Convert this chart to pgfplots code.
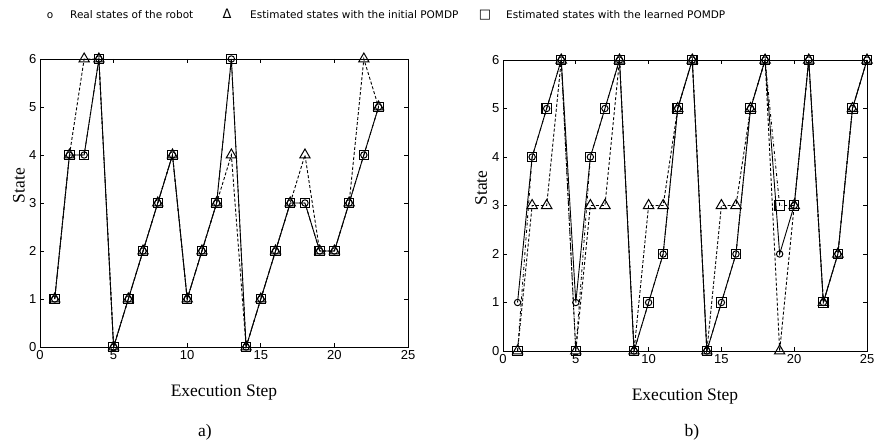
\documentclass[border=0pt]{standalone}
\usepackage{fontspec}
\setmainfont{Liberation Serif}
\newfontfamily\tickfont{Liberation Sans}
\newfontfamily\legfont{DejaVu Sans}
\usepackage{pgfplots}
\pgfplotsset{compat=1.18}
\pgfplotsset{
 mystyle/.style={
  scale only axis, xmin=0,xmax=25,ymin=0,ymax=6,
  xtick={0,5,...,25}, ytick={0,...,6},
  tick align=inside, major tick length=4pt,
  tick label style={font=\tickfont\fontsize{13}{15}\selectfont},
  /pgf/number format/assume math mode=true,
  label style={font=\fontsize{17.5}{20}\selectfont},
  xlabel={Execution Step}, ylabel={State},
  xlabel style={at={(axis description cs:0.5,0)}, anchor=center, yshift=-46pt},
  axis line style={line width=0.9pt},
  every tick/.style={black, line width=0.7pt},
  clip=false,
 },
 real/.style={black, line width=0.9pt, mark=o, mark size=3.2pt, mark options={solid, line width=1pt}},
 init/.style={black, densely dashed, line width=0.9pt, mark=triangle, mark size=6pt, mark options={solid, line width=1pt}},
 learn/.style={black, dash dot, line width=0.9pt, mark=square, mark size=4.7pt, mark options={solid, line width=1.1pt}},
}
\begin{document}
\begin{tikzpicture}[x=1pt,y=1pt]
\useasboundingbox (0,0) rectangle (874,441);
% ---- a)
\begin{axis}[mystyle, at={(40pt,94pt)}, anchor=south west, width=368pt, height=288pt,
  ylabel style={at={(axis description cs:-0.057,0.56)}, anchor=center}]
\addplot[learn] coordinates {(1,1)(2,4)(3,4)(4,6)(5,0)(6,1)(7,2)(8,3)(9,4)(10,1)(11,2)(12,3)(13,6)(14,0)(15,1)(16,2)(17,3)(18,3)(19,2)(20,2)(21,3)(22,4)(23,5)};
\addplot[init] coordinates {(1,1)(2,4)(3,6)(4,6)(5,0)(6,1)(7,2)(8,3)(9,4)(10,1)(11,2)(12,3)(13,4)(14,0)(15,1)(16,2)(17,3)(18,4)(19,2)(20,2)(21,3)(22,6)(23,5)};
\addplot[real] coordinates {(1,1)(2,4)(3,4)(4,6)(5,0)(6,1)(7,2)(8,3)(9,4)(10,1)(11,2)(12,3)(13,6)(14,0)(15,1)(16,2)(17,3)(18,3)(19,2)(20,2)(21,3)(22,4)(23,5)};
\end{axis}
% ---- b)
\begin{axis}[mystyle, at={(503pt,90pt)}, anchor=south west, width=364pt, height=291pt,
  ylabel style={at={(axis description cs:-0.06,0.56)}, anchor=center}]
\addplot[learn] coordinates {(1,0)(2,4)(3,5)(4,6)(5,0)(6,4)(7,5)(8,6)(9,0)(10,1)(11,2)(12,5)(13,6)(14,0)(15,1)(16,2)(17,5)(18,6)(19,3)(20,3)(21,6)(22,1)(23,2)(24,5)(25,6)};
\addplot[init] coordinates {(1,0)(2,3)(3,3)(4,6)(5,0)(6,3)(7,3)(8,6)(9,0)(10,3)(11,3)(12,5)(13,6)(14,0)(15,3)(16,3)(17,5)(18,6)(19,0)(20,3)(21,6)(22,1)(23,2)(24,5)(25,6)};
\addplot[real] coordinates {(1,1)(2,4)(3,5)(4,6)(5,1)(6,4)(7,5)(8,6)(9,0)(10,1)(11,2)(12,5)(13,6)(14,0)(15,1)(16,2)(17,5)(18,6)(19,2)(20,3)(21,6)(22,1)(23,2)(24,5)(25,6)};
\end{axis}
% captions
\node[font=\fontsize{17.5}{20}\selectfont] at (205,9) {a)};
\node[font=\fontsize{17.5}{20}\selectfont] at (692,9) {b)};
% legend
\begin{scope}[every node/.style={font=\legfont\fontsize{10.5}{12}\selectfont, inner sep=0pt}]
\node[anchor=base] at (50,422) {o};
\node[anchor=base west] at (70,422) {Real states of the robot};
\node[anchor=base, font=\legfont\fontsize{13}{15}\selectfont] at (227,422) {Δ};
\node[anchor=base west] at (250,422) {Estimated states with the initial POMDP};
\node[anchor=base, font=\legfont\fontsize{13}{15}\selectfont] at (485,422) {□};
\node[anchor=base west] at (506,422) {Estimated states with the learned POMDP};
\end{scope}
\end{tikzpicture}
\end{document}
